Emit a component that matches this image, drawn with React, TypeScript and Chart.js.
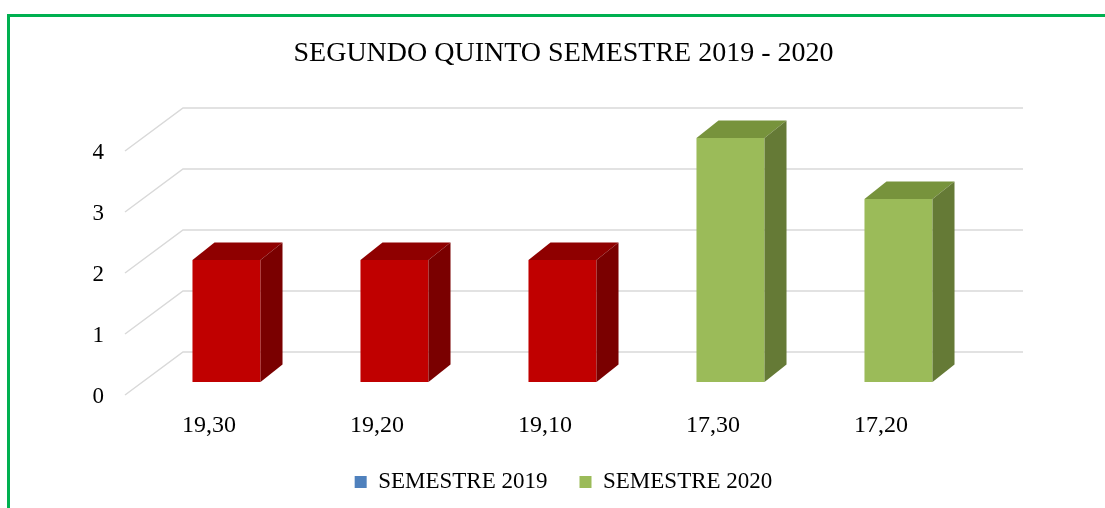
import React, { useEffect, useRef } from 'react';
import { Chart, registerables } from 'chart.js';

Chart.register(...registerables);

// ---------- data ----------
const categories = ['19,30', '19,20', '19,10', '17,30', '17,20'];
const semestre2019 = [2, 2, 2, null, null];
const semestre2020 = [null, null, null, 4, 3];
const seriesNames = ['SEMESTRE 2019', 'SEMESTRE 2020'];
const chartTitle = 'SEGUNDO QUINTO SEMESTRE 2019 - 2020';
const yMin = 0;
const yMax = 4;
const yStep = 1;

// ---------- style ----------
const FONT = "'Liberation Serif', 'Times New Roman', serif";
const RED_FRONT = '#C00000';
const RED_TOP = '#8F0000';
const RED_SIDE = '#7A0000';
const GREEN_FRONT = '#9BBB59';
const GREEN_TOP = '#77933C';
const GREEN_SIDE = '#657A36';
const LEGEND_2019 = '#4F81BD';
const GRID = '#D9D9D9';

const WALL_DX = 58;
const WALL_DY = -43;
const BAR_DX = 17.5;
const BAR_DY = -13;
const DEPTH_DX = 22;
const DEPTH_DY = -17.5;

const faceColors = [
  { top: RED_TOP, side: RED_SIDE },
  { top: GREEN_TOP, side: GREEN_SIDE },
];

const threeD = {
  id: 'threeD',
  beforeDatasetsDraw(chart: any) {
    const { ctx, chartArea, scales } = chart;
    const y = scales.y;
    ctx.save();
    ctx.strokeStyle = GRID;
    ctx.lineWidth = 1.5;
    y.ticks.forEach((t: any) => {
      const py = y.getPixelForValue(t.value);
      ctx.beginPath();
      ctx.moveTo(chartArea.left, py);
      ctx.lineTo(chartArea.left + WALL_DX, py + WALL_DY);
      ctx.lineTo(chartArea.right + WALL_DX, py + WALL_DY);
      ctx.stroke();
    });
    ctx.restore();
    ctx.save();
    ctx.translate(BAR_DX, BAR_DY);
  },
  afterDatasetsDraw(chart: any) {
    const { ctx } = chart;
    chart.data.datasets.forEach((ds: any, di: number) => {
      const meta = chart.getDatasetMeta(di);
      const fc = faceColors[di];
      meta.data.forEach((bar: any, i: number) => {
        if (ds.data[i] == null) return;
        const { x, y, base, width } = bar.getProps(['x', 'y', 'base', 'width'], true);
        const l = x - width / 2;
        const r = x + width / 2;
        const top = Math.min(y, base);
        const bot = Math.max(y, base);
        ctx.fillStyle = fc.top;
        ctx.beginPath();
        ctx.moveTo(l, top);
        ctx.lineTo(l + DEPTH_DX, top + DEPTH_DY);
        ctx.lineTo(r + DEPTH_DX, top + DEPTH_DY);
        ctx.lineTo(r, top);
        ctx.closePath();
        ctx.fill();
        ctx.fillStyle = fc.side;
        ctx.beginPath();
        ctx.moveTo(r, top);
        ctx.lineTo(r + DEPTH_DX, top + DEPTH_DY);
        ctx.lineTo(r + DEPTH_DX, bot + DEPTH_DY);
        ctx.lineTo(r, bot);
        ctx.closePath();
        ctx.fill();
      });
    });
    ctx.restore();
  },
};

export default function App() {
  const ref = useRef<HTMLCanvasElement | null>(null);

  useEffect(() => {
    if (!ref.current) return;
    const chart = new Chart(ref.current, {
      type: 'bar',
      data: {
        labels: categories,
        datasets: [
          {
            label: seriesNames[0],
            data: semestre2019,
            backgroundColor: RED_FRONT,
            borderWidth: 0,
            clip: false,
          },
          {
            label: seriesNames[1],
            data: semestre2020,
            backgroundColor: GREEN_FRONT,
            borderWidth: 0,
            clip: false,
          },
        ],
      } as any,
      plugins: [threeD],
      options: {
        responsive: false,
        animation: false,
        events: [],
        datasets: {
          bar: { categoryPercentage: 0.405, barPercentage: 1 },
        },
        layout: { padding: { left: 22, right: 0, top: 0, bottom: 36.5 } },
        scales: {
          x: {
            stacked: true,
            grid: { display: false, drawTicks: false },
            border: { display: false },
            ticks: { color: '#000', font: { family: FONT, size: 24 }, padding: 16, maxRotation: 0 },
            afterFit: (s: any) => { s.height = 43.5; },
          },
          y: {
            stacked: true,
            min: yMin,
            max: yMax,
            grid: { display: false, drawTicks: false },
            border: { display: false },
            ticks: { stepSize: yStep, color: '#000', font: { family: FONT, size: 23 }, padding: 21, labelOffset: 1.5 },
            afterFit: (s: any) => { s.width = 103; },
          },
          yR: {
            position: 'right',
            display: true,
            grid: { display: false, drawTicks: false },
            border: { display: false },
            ticks: { display: false },
            afterFit: (s: any) => { s.width = 140; },
          },
        },
        plugins: {
          title: {
            display: true,
            text: chartTitle,
            color: '#000',
            font: { family: FONT, size: 28, weight: 'normal' },
            padding: { top: 36.9, bottom: 80.5 },
          },
          legend: {
            position: 'bottom',
            labels: {
              color: '#000',
              font: { family: FONT, size: 23 },
              boxWidth: 12,
              boxHeight: 12,
              padding: 32,
              generateLabels: (c: any) =>
                c.data.datasets.map((ds: any, i: number) => ({
                  text: ds.label,
                  fillStyle: i === 0 ? LEGEND_2019 : GREEN_FRONT,
                  strokeStyle: 'rgba(0,0,0,0)',
                  lineWidth: 0,
                  hidden: false,
                  datasetIndex: i,
                  fontColor: '#000',
                })),
            },
          },
          tooltip: { enabled: false },
        },
      } as any,
    });
    return () => chart.destroy();
  }, []);

  return (
    <div
      style={{
        position: 'fixed',
        left: 0,
        top: 0,
        width: 1105,
        height: 508,
        overflow: 'hidden',
        background: '#fff',
      }}
    >
      <div
        style={{
          position: 'absolute',
          left: 7,
          top: 14,
          width: 1200,
          height: 600,
          border: '3px solid #00B050',
          boxSizing: 'border-box',
        }}
      />
      <canvas
        ref={ref}
        width={1105}
        height={540}
        style={{ position: 'absolute', left: 0, top: 0, width: 1105, height: 540 }}
      />
    </div>
  );
}
